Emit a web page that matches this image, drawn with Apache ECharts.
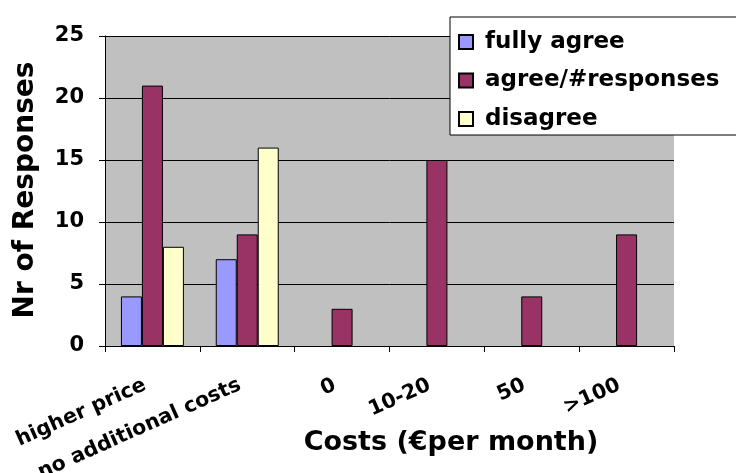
<!DOCTYPE html>
<html>
<head>
<meta charset="utf-8">
<script src="https://cdn.jsdelivr.net/npm/echarts@6/dist/echarts.min.js"></script>
<style>
html,body{margin:0;padding:0;background:#fff;}
#chart{width:736px;height:473px;}
</style>
</head>
<body>
<div id="chart"></div>
<script>
var categories = ['higher price', 'no additional costs', '0', '10-20', '50', '>100'];
var fullyAgree = [4, 7, null, null, null, null];
var agreeResponses = [21, 9, 3, 15, 4, 9];
var disagree = [8, 16, null, null, null, null];
var seriesNames = ['fully agree', 'agree/#responses', 'disagree'];
var yTicks = { min: 0, max: 25, interval: 5 };
var xTitle = 'Costs (\u20acper month)';
var yTitle = 'Nr of Responses';

var FONT = '"DejaVu Sans", sans-serif';
var chart = echarts.init(document.getElementById('chart'), null, { renderer: 'canvas' });

function barSeries(name, data, color) {
  return {
    name: name,
    type: 'bar',
    data: data,
    barGap: '0%',
    barCategoryGap: '33.6%',
    itemStyle: { color: color, borderColor: '#000', borderWidth: 1 },
    emphasis: { disabled: true }
  };
}

chart.setOption({
  animation: false,
  backgroundColor: '#ffffff',
  grid: {
    left: 105, right: 62, top: 36, bottom: 127,
    containLabel: false, outerBoundsMode: 'none',
    show: true, backgroundColor: '#C0C0C0', borderWidth: 0
  },
  legend: {
    orient: 'vertical',
    left: 450,
    top: 17,
    padding: [13, 60, 4, 8],
    itemWidth: 14,
    itemHeight: 14,
    itemGap: 14.5,
    backgroundColor: '#ffffff',
    borderColor: '#000',
    borderWidth: 1,
    borderRadius: 0,
    icon: 'rect',
    selectedMode: false,
    textStyle: { fontFamily: FONT, fontWeight: 'bold', fontSize: 23, color: '#000', lineHeight: 24, padding: [0, 0, 0, 7] },
    data: seriesNames
  },
  xAxis: {
    type: 'category',
    data: categories,
    boundaryGap: true,
    axisLine: { lineStyle: { color: '#000', width: 1 } },
    axisTick: { show: true, length: 6, alignWithLabel: false, lineStyle: { color: '#000' } },
    axisLabel: { interval: 0, rotate: 24, margin: 35, padding: [0, 8, 0, 0], fontFamily: FONT, fontWeight: 'bold', fontSize: 20.5, color: '#000' },
    splitLine: { show: false }
  },
  yAxis: {
    type: 'value',
    min: yTicks.min,
    max: yTicks.max,
    interval: yTicks.interval,
    axisLine: { show: true, lineStyle: { color: '#000', width: 1 } },
    axisTick: { show: true, length: 6, lineStyle: { color: '#000' } },
    axisLabel: { margin: 21, fontFamily: FONT, fontWeight: 'bold', fontSize: 21, color: '#000' },
    splitLine: { show: true, lineStyle: { color: '#000', width: 1 } }
  },
  graphic: [
    {
      type: 'text',
      x: 451, y: 443,
      style: { text: xTitle, fontFamily: FONT, fontWeight: 'bold', fontSize: 27, fill: '#000', align: 'center', verticalAlign: 'middle' }
    },
    {
      type: 'text',
      x: 26, y: 190,
      rotation: Math.PI / 2,
      style: { text: yTitle, fontFamily: FONT, fontWeight: 'bold', fontSize: 28, fill: '#000', align: 'center', verticalAlign: 'middle' }
    }
  ],
  series: [
    barSeries(seriesNames[0], fullyAgree, '#9999FF'),
    barSeries(seriesNames[1], agreeResponses, '#993366'),
    barSeries(seriesNames[2], disagree, '#FFFFCC')
  ]
});
</script>
</body>
</html>
